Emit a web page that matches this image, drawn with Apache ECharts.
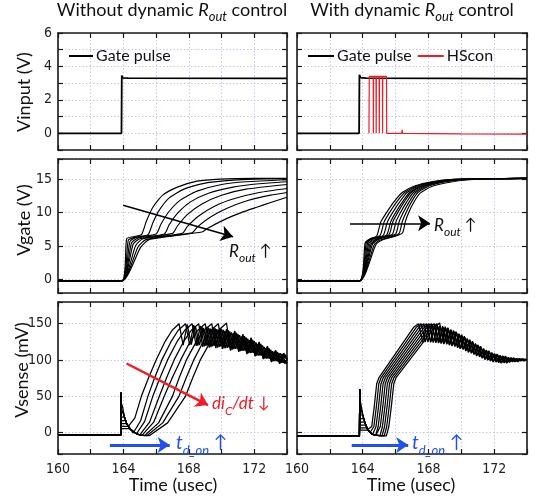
<!DOCTYPE html>
<html><head><meta charset="utf-8">
<script src="https://cdn.jsdelivr.net/npm/echarts@6/dist/echarts.min.js"></script>
<style>html,body{margin:0;padding:0;background:#fff}#c{width:535px;height:497px}</style>
</head><body><div id="c"></div>
<script>
// ---------- tick labels ----------
const xTickLabels = [160, 164, 168, 172];
const yTickLabelsInput = [0, 2, 4, 6];
const yTickLabelsGate = [0, 5, 10, 15];
const yTickLabelsSense = [0, 50, 100, 150];

// ---------- row 1: Vinput ----------
const gatePulseLeft = [[160,0],[163.88,0],[163.9,3.45],[163.96,3.32],[164.3,3.3],[174,3.28]];
const gatePulseRight = [[160,0],[163.78,0],[163.8,3.5],[163.86,3.33],[164.2,3.3],[174,3.27]];
const hsconRight = [[164.38,0],[164.4,3.4],[164.64,3.4],[164.65,0],[164.66,3.4],[164.81,3.4],[164.82,0],[164.83,3.4],[165.0,3.4],[165.01,0],[165.02,3.4],[165.2,3.4],[165.21,0],[165.22,3.4],[165.45,3.4],[165.46,0],[166.37,0],[166.4,0.2],[166.43,0],[170,-0.03],[174,-0.05]];

// ---------- row 2: Vgate ----------
const vgateLeft = [
 [[160,-0.2],[163.9,-0.2],[164.2,6.1],[164.6,6.4],[165.1,6.7],[165.4,8.7],[165.8,10.8],[166.4,12.6],[167.3,13.8],[168.5,14.7],[169.9,15.0],[172,15.1],[174,15.1]],
 [[160,-0.2],[163.9,-0.2],[164.3,5.9],[164.7,6.3],[165.5,6.7],[165.8,8.5],[166.2,10.4],[166.8,12.2],[167.7,13.5],[169,14.4],[170.5,14.8],[172,15.0],[174,15.05]],
 [[160,-0.2],[163.9,-0.2],[164.4,5.7],[164.8,6.3],[166.0,6.8],[166.3,8.3],[166.8,10.2],[167.5,11.9],[168.5,13.2],[170,14.2],[171.5,14.6],[174,14.9]],
 [[160,-0.2],[163.9,-0.2],[164.5,5.5],[164.9,6.2],[166.5,6.8],[166.8,8.2],[167.3,9.9],[168.1,11.6],[169.2,12.9],[170.7,13.8],[172.3,14.3],[174,14.6]],
 [[160,-0.2],[163.9,-0.2],[164.6,5.3],[165.0,6.1],[167.0,6.9],[167.3,8.0],[167.9,9.7],[168.8,11.3],[170,12.6],[171.5,13.5],[174,14.2]],
 [[160,-0.2],[163.9,-0.2],[164.75,5.1],[165.2,6.1],[167.6,6.9],[167.9,7.9],[168.6,9.5],[169.6,11.0],[170.8,12.1],[172.3,13.0],[174,13.6]],
 [[160,-0.2],[163.9,-0.2],[164.9,4.9],[165.4,6.0],[168.2,7.0],[168.5,7.8],[169.3,9.3],[170.3,10.6],[171.6,11.8],[173,12.6],[174,13.0]],
 [[160,-0.2],[163.9,-0.2],[165.05,4.8],[165.6,6.0],[168.8,7.1],[169.1,7.6],[170.3,9.1],[171.2,10.0],[172.15,10.8],[173,11.5],[174,12.3]]
];
const vgateRight = [
 [[160,-0.2],[163.8,-0.2],[164.15,5.5],[164.45,6.1],[164.85,6.5],[165.1,8.6],[165.45,10],[165.9,11.6],[166.4,13],[167.2,14],[168.2,14.6],[169.5,14.95],[171,15.05],[174,15.1]],
 [[160,-0.2],[163.8,-0.2],[164.22,5.5],[164.52,6.1],[165.05,6.55],[165.3,8.6],[165.63,10],[166.07,11.6],[166.55,13],[167.33,14],[168.3,14.6],[169.6,14.95],[171,15.05],[174,15.1]],
 [[160,-0.2],[163.8,-0.2],[164.3,5.5],[164.6,6.1],[165.25,6.6],[165.5,8.6],[165.82,10],[166.25,11.6],[166.7,13],[167.45,14],[168.4,14.6],[169.7,14.95],[171.2,15.05],[174,15.1]],
 [[160,-0.2],[163.8,-0.2],[164.37,5.4],[164.67,6.1],[165.45,6.65],[165.7,8.6],[166.0,10],[166.42,11.6],[166.85,13],[167.58,14],[168.5,14.6],[169.8,14.95],[171.2,15.05],[174,15.1]],
 [[160,-0.2],[163.8,-0.2],[164.45,5.4],[164.75,6.0],[165.6,6.7],[165.83,8.6],[166.13,10],[166.53,11.6],[166.95,13],[167.7,14],[168.6,14.6],[169.9,14.95],[171.3,15.05],[174,15.1]],
 [[160,-0.2],[163.8,-0.2],[164.52,5.3],[164.85,6.0],[165.8,6.75],[166.02,8.6],[166.3,10],[166.68,11.6],[167.08,13],[167.8,14],[168.75,14.6],[170,14.95],[171.4,15.05],[174,15.1]],
 [[160,-0.2],[163.8,-0.2],[164.6,5.3],[164.95,6.0],[166.0,6.8],[166.21,8.6],[166.47,10],[166.83,11.6],[167.22,13],[167.93,14],[168.9,14.6],[170.1,14.95],[171.5,15.05],[174,15.1]],
 [[160,-0.2],[163.8,-0.2],[164.7,5.2],[165.05,5.9],[166.2,6.85],[166.4,8.6],[166.64,10],[166.97,11.6],[167.36,13],[168.07,14],[169.05,14.6],[170.3,14.95],[171.7,15.05],[174,15.1]],
 [[160,-0.2],[163.8,-0.2],[164.8,5.2],[165.2,5.9],[166.4,6.9],[166.6,8.7],[166.8,10],[167.1,11.5],[167.5,12.9],[168.2,13.9],[169.2,14.5],[170.5,14.9],[172,15.05],[174,15.1]]
];

// ---------- row 3: Vsense ----------
const vsenseLeft = [
 [[160,-4],[163.84,-4],[163.86,55],[163.87,40],[163.93,40],[163.95,35],[164.05,22],[164.2,12],[164.3,8],[164.7,20],[165.1,50],[165.55,76],[166.0,100],[166.56,126],[166.98,141],[167.4,150],[167.65,120.5],[167.9,149],[168.15,121.1],[168.4,146.8],[168.65,120.5],[168.9,144.3],[169.15,120.2],[169.4,142.2],[169.65,120.2],[169.9,140.2],[170.15,119.8],[170.4,137],[170.65,118.3],[170.9,133.5],[171.15,116.3],[171.4,128.8],[171.65,113.3],[171.9,123.8],[172.15,109.5],[172.4,119],[172.65,104.5],[172.9,114],[173.15,99.5],[173.4,110],[173.65,96.5],[173.9,106.7],[174,100]],
 [[160,-4],[163.84,-4],[163.86,55],[163.87,33],[163.97,33],[164.05,22],[164.2,12],[164.4,5],[164.6,-1],[165.05,16],[165.5,50],[165.92,76],[166.35,100],[166.93,126],[167.35,141],[167.8,150],[168.05,120.4],[168.3,148.1],[168.55,119.8],[168.8,145.6],[169.05,119.4],[169.3,143.4],[169.55,119.4],[169.8,141.4],[170.05,119.3],[170.3,138.5],[170.55,117.8],[170.8,135],[171.05,116.1],[171.3,130.6],[171.55,113.1],[171.8,125.6],[172.05,110],[172.3,120],[172.55,105.5],[172.8,115],[173.05,100.5],[173.3,110.5],[173.55,97],[173.8,107.4],[174,101]],
 [[160,-4],[163.84,-4],[163.86,55],[163.87,27],[164.01,27],[164.05,22],[164.2,12],[164.4,5],[164.6,1],[164.8,-2],[165.3,15],[165.8,50],[166.25,76],[166.7,100],[167.3,126],[167.75,141],[168.2,150],[168.45,119.5],[168.7,146.9],[168.95,118.7],[169.2,144.6],[169.45,118.6],[169.7,142.6],[169.95,118.6],[170.2,140],[170.45,117.3],[170.7,136.5],[170.95,115.8],[171.2,132.4],[171.45,112.9],[171.7,127.4],[171.95,109.9],[172.2,122],[172.45,106],[172.7,116],[172.95,101.5],[173.2,111.2],[173.45,97.8],[173.7,108.1],[173.95,94.4],[174,97]],
 [[160,-4],[163.84,-4],[163.86,55],[163.87,21],[164.07,21],[164.2,12],[164.4,5],[164.6,1],[164.8,-2],[165.0,-3.5],[165.6,14],[166.2,50],[166.65,76],[167.1,100],[167.7,126],[168.15,141],[168.6,150],[168.85,118],[169.1,145.8],[169.35,117.8],[169.6,143.8],[169.85,117.8],[170.1,141.5],[170.35,116.8],[170.6,138],[170.85,115.3],[171.1,134.2],[171.35,112.7],[171.6,129.2],[171.85,109.7],[172.1,124],[172.35,106],[172.6,118],[172.85,102],[173.1,112],[173.35,98.5],[173.6,109],[173.85,95],[174,100]],
 [[160,-4],[163.84,-4],[163.86,55],[163.87,16],[164.14,16],[164.2,12],[164.4,5],[164.6,1],[164.8,-2],[165.0,-3.5],[165.15,-4],[165.85,14],[166.5,50],[167.0,76],[167.5,100],[168.1,126],[168.55,141],[169.0,150],[169.25,117],[169.5,145],[169.75,117],[170,143],[170.25,116.3],[170.5,139.5],[170.75,114.8],[171,136],[171.25,112.5],[171.5,131],[171.75,109.5],[172,126],[172.25,106],[172.5,120],[172.75,102],[173,114],[173.25,98.5],[173.5,109.5],[173.75,96],[174,100]],
 [[160,-4],[163.84,-4],[163.86,55],[163.87,12],[164.2,12],[164.4,5],[164.6,1],[164.8,-2],[165.0,-3.5],[165.3,-4.5],[166.15,13],[167.0,50],[167.42,76],[167.85,100],[168.47,126],[168.93,141],[169.4,150],[169.65,116.2],[169.9,144.2],[170.15,115.8],[170.4,141],[170.65,114.3],[170.9,137.5],[171.15,112.3],[171.4,132.8],[171.65,109.3],[171.9,127.8],[172.15,106],[172.4,122],[172.65,102],[172.9,116],[173.15,98],[173.4,111],[173.65,96],[173.9,106.7],[174,102]],
 [[160,-4],[163.84,-4],[163.86,55],[163.87,8],[164.31,8],[164.4,5],[164.6,1],[164.8,-2],[165.0,-3.5],[165.2,-4.2],[165.45,-4.5],[166.4,13],[167.4,50],[167.85,76],[168.3,100],[168.9,126],[169.35,141],[169.8,150],[170.05,115.3],[170.3,142.5],[170.55,113.8],[170.8,139],[171.05,112.1],[171.3,134.6],[171.55,109.1],[171.8,129.6],[172.05,106],[172.3,124],[172.55,102],[172.8,118],[173.05,98],[173.3,112.5],[173.55,95.5],[173.8,108.4],[174,100]],
 [[160,-4],[163.84,-4],[163.86,55],[163.87,5],[164.4,5],[164.6,1],[164.8,-2],[165.0,-3.5],[165.2,-4.2],[165.6,-4.5],[166.7,13],[167.8,50],[168.25,76],[168.7,100],[169.34,126],[169.82,141],[170.3,151],[170.55,112.8],[170.8,140],[171.05,111.1],[171.3,135.6],[171.55,108.1],[171.8,130.6],[172.05,105],[172.3,125],[172.55,101],[172.8,119],[173.05,97],[173.3,113.5],[173.55,94.5],[173.8,109.4],[174,100]]
];
const vsenseRight = [
 [[160,-5],[163.8,-5],[163.82,59],[163.83,45],[163.88,45],[163.9,38],[164.0,24],[164.15,12],[164.3,4],[164.4,1.3],[164.55,8],[164.7,35],[164.85,67],[165.0,76],[167.1,145],[167.4,150],[167.65,124.5],[167.9,149],[168.15,125.2],[168.4,147.2],[168.65,124.9],[168.9,144.4],[169.15,123.3],[169.4,139.8],[169.65,120],[169.9,134],[170.15,115.7],[170.4,127.2],[170.65,110.7],[170.9,120.2],[171.15,105.7],[171.4,113.2],[171.65,101.3],[171.9,107.8],[172.15,98.7],[172.4,104],[172.65,97.8],[172.9,101.5],[173.2,99.5],[173.6,100.5],[174,100]],
 [[160,-5],[163.8,-5],[163.82,59],[163.83,37],[163.91,37],[164.0,24],[164.15,12],[164.3,4],[164.45,0],[164.53,-1.6],[164.68,8],[164.83,35],[164.98,67],[165.13,76],[167.26,145],[167.56,150],[167.81,124.5],[168.06,148.9],[168.31,124.9],[168.56,146.8],[168.81,124.3],[169.06,143.5],[169.31,122],[169.56,138.4],[169.81,118.4],[170.06,132.3],[170.31,113.8],[170.56,125.3],[170.81,108.8],[171.06,118.3],[171.31,103.8],[171.56,111.5],[171.81,100],[172.06,106.7],[172.31,98],[172.56,103.4],[172.81,98],[173.06,101],[173.4,99.5],[174,100]],
 [[160,-5],[163.8,-5],[163.82,59],[163.83,30],[163.96,30],[164.0,24],[164.15,12],[164.3,4],[164.45,0],[164.6,-3],[164.66,-3.3],[164.81,8],[164.96,35],[165.11,67],[165.26,76],[167.42,145],[167.72,150],[167.97,124.5],[168.22,148.6],[168.47,124.6],[168.72,146.1],[168.97,123.6],[169.22,142.2],[169.47,120.7],[169.72,136.8],[169.97,116.8],[170.22,130.4],[170.47,111.9],[170.72,123.4],[170.97,106.9],[171.22,116.4],[171.47,101.9],[171.72,110.2],[171.97,98.7],[172.22,105.9],[172.47,97.2],[172.72,103.2],[172.97,98.5],[173.22,101],[173.6,99.5],[174,100]],
 [[160,-5],[163.8,-5],[163.82,59],[163.83,24],[164.0,24],[164.15,12],[164.3,4],[164.45,0],[164.6,-3],[164.79,-4],[164.94,8],[165.09,35],[165.24,67],[165.39,76],[167.58,145],[167.88,150],[168.13,124.2],[168.38,148.2],[168.63,124],[168.88,145.5],[169.13,122.5],[169.38,141],[169.63,119.2],[169.88,135.2],[170.13,114.9],[170.38,128.4],[170.63,109.9],[170.88,121.4],[171.13,104.9],[171.38,114.4],[171.63,100.5],[171.88,109],[172.13,97.9],[172.38,105.1],[172.63,96.9],[172.88,102.5],[173.13,98.5],[173.4,101],[173.8,99.5],[174,100]],
 [[160,-5],[163.8,-5],[163.82,59],[163.83,19],[164.06,19],[164.15,12],[164.3,4],[164.45,0],[164.6,-3],[164.8,-4],[164.92,-4.3],[165.07,8],[165.22,35],[165.37,67],[165.52,76],[167.74,145],[168.04,150],[168.29,123.9],[168.54,147.8],[168.79,123.3],[169.04,144.7],[169.29,121.2],[169.54,139.6],[169.79,117.6],[170.04,133.5],[170.29,113],[170.54,126.5],[170.79,108],[171.04,119.5],[171.29,103],[171.54,112.7],[171.79,99.2],[172.04,107.8],[172.29,97.1],[172.54,104.5],[172.79,96.6],[173.04,102.5],[173.3,98.5],[173.6,101],[174,100]],
 [[160,-5],[163.8,-5],[163.82,59],[163.83,14],[164.13,14],[164.15,12],[164.3,4],[164.45,0],[164.6,-3],[164.8,-4],[165.05,-4.6],[165.2,8],[165.35,35],[165.5,67],[165.65,76],[167.9,145],[168.2,150],[168.45,123.6],[168.7,147.2],[168.95,122.7],[169.2,143.4],[169.45,119.9],[169.7,138],[169.95,116],[170.2,131.6],[170.45,111.1],[170.7,124.6],[170.95,106.1],[171.2,117.6],[171.45,101.1],[171.7,111.4],[171.95,97.9],[172.2,107],[172.45,96.3],[172.7,104.2],[172.95,97.5],[173.2,102],[173.45,98.5],[173.75,101],[174,100]],
 [[160,-5],[163.8,-5],[163.82,59],[163.83,10],[164.19,10],[164.3,4],[164.45,0],[164.6,-3],[164.8,-4],[165.0,-4.5],[165.18,-4.8],[165.33,8],[165.48,35],[165.63,67],[165.78,76],[168.06,145],[168.36,150],[168.61,123.1],[168.86,146.6],[169.11,121.6],[169.36,142.1],[169.61,118.4],[169.86,136.4],[170.11,114.2],[170.36,129.7],[170.61,109.2],[170.86,122.7],[171.11,104.2],[171.36,115.7],[171.61,99.6],[171.86,110.1],[172.11,97],[172.36,106.2],[172.61,95.9],[172.86,103.5],[173.11,97.5],[173.36,102],[173.61,98.5],[173.9,101],[174,100]],
 [[160,-5],[163.8,-5],[163.82,59],[163.83,6],[164.26,6],[164.3,4],[164.45,0],[164.6,-3],[164.8,-4],[165.0,-4.5],[165.31,-5],[165.46,8],[165.61,35],[165.76,67],[165.91,76],[168.22,145],[168.52,150],[168.77,122.6],[169.02,145.9],[169.27,120.3],[169.52,140.8],[169.77,116.8],[170.02,134.8],[170.27,112.3],[170.52,127.8],[170.77,107.3],[171.02,120.8],[171.27,102.3],[171.52,113.8],[171.77,98.3],[172.02,108.9],[172.27,96.2],[172.52,105.5],[172.77,95.6],[173.02,103],[173.27,97.5],[173.52,102],[173.8,98.5],[174,100.5]],
 [[160,-5],[163.8,-5],[163.82,59],[163.83,3],[164.34,3],[164.45,0],[164.6,-3],[164.8,-4],[165.0,-4.5],[165.3,-5],[165.44,-5],[165.59,8],[165.74,35],[165.89,67],[166.04,76],[168.38,145],[168.68,151],[168.93,121.8],[169.18,144.6],[169.43,119.1],[169.68,139.2],[169.93,115.2],[170.18,132.8],[170.43,110.3],[170.68,125.8],[170.93,105.3],[171.18,118.8],[171.43,100.3],[171.68,112.6],[171.93,97.1],[172.18,108.1],[172.43,95.4],[172.68,105.3],[172.93,96.5],[173.18,103],[173.43,97.5],[173.7,101.5],[174,99]]
];

// ---------- annotation arrows (data coordinates) ----------
const arrowGateLeft = [[163.98, 11.1], [170.7, 6.4]];
const arrowGateRight = [[163.23, 8.4], [168.1, 8.4]];
const arrowDidtLeft = [[164.19, 95], [169.17, 37.6]];
const arrowTdLeft = [[163.17, -17.5], [166.83, -17.5]];
const arrowTdRight = [[163.33, -17.5], [166.77, -17.5]];

// ---------- styling ----------
const FT = "Lato, 'Open Sans', sans-serif";
const FN = "'Liberation Sans Narrow', 'DejaVu Sans Condensed', 'Liberation Sans', sans-serif";
const GRID_COLOR = '#c3c8ef';
const RED = '#ee1c24';
const BLUE = '#2050ee';

const grids = [
  {left:58, top:33, width:229, height:117},
  {left:297, top:33, width:230, height:117},
  {left:58, top:159, width:229, height:134},
  {left:297, top:159, width:230, height:134},
  {left:58, top:302, width:229, height:152},
  {left:297, top:302, width:230, height:152}
];
const yRanges = [
  {min:-1, max:6, interval:1, labels:yTickLabelsInput},
  {min:-2, max:18, labels:yTickLabelsGate},
  {min:-30, max:180, labels:yTickLabelsSense}
];

const axisLine = {show:true, onZero:false, lineStyle:{color:'#1a1a1a', width:1.6}};
const axisTick = {show:true, inside:true, length:5, lineStyle:{color:'#1a1a1a', width:1.2}};
const splitLine = {show:true, lineStyle:{color:GRID_COLOR, type:[1.5,2], width:1}};

const xAxis = [], yAxis = [];
grids.forEach((g, i) => {
  const bottomRow = i >= 4;
  xAxis.push({type:'value', gridIndex:i, position:'bottom', min:160, max:174, interval:2,
    axisLine, axisTick, splitLine,
    axisLabel:{show:bottomRow, margin:8, color:'#222', fontSize:14, fontFamily:FN,
      formatter: v => xTickLabels.includes(v) ? String(v) : ''}});
  xAxis.push({type:'value', gridIndex:i, position:'top', min:160, max:174, interval:2,
    axisLine, axisTick, splitLine:{show:false}, axisLabel:{show:false}});
  const r = yRanges[Math.floor(i/2)];
  const left = i % 2 === 0;
  const yl = {type:'value', gridIndex:i, position:'left', min:r.min, max:r.max,
    axisLine, axisTick, splitLine,
    axisLabel:{show:left, margin:6, color:'#222', fontSize:14, fontFamily:FN,
      formatter: v => r.labels.includes(v) ? String(v) : ''}};
  const yr = {type:'value', gridIndex:i, position:'right', min:r.min, max:r.max,
    axisLine, axisTick, splitLine:{show:false}, axisLabel:{show:false}};
  if (r.interval) { yl.interval = r.interval; yr.interval = r.interval; }
  yAxis.push(yl); yAxis.push(yr);
});

function line(data, g, color, w, opts) {
  return Object.assign({type:'line', xAxisIndex:2*g, yAxisIndex:2*g, data:data,
    showSymbol:false, symbol:'none', lineStyle:{color:color, width:w}, itemStyle:{color:color},
    animation:false, silent:true, clip:true}, opts || {});
}
function arrowItem(pts, color, width) {
  return [{coord:pts[0], lineStyle:{color:color, width:width, type:'solid'}, itemStyle:{color:color}},
          {coord:pts[1], lineStyle:{color:color, width:width, type:'solid'}, itemStyle:{color:color}}];
}
function arrowML(items) {
  return {silent:true, animation:false, symbol:['none','arrow'], symbolSize:12,
    lineStyle:{type:'solid'}, label:{show:false}, emphasis:{disabled:true}, data:items};
}

const series = [];
series.push(line(gatePulseLeft, 0, '#000', 1.8, {name:'Gate pulse'}));
series.push(line(gatePulseRight, 1, '#000', 1.8, {name:'Gate pulse'}));
series.push(line(hsconRight, 1, RED, 1.2, {name:'HScon', z:3}));
vgateLeft.forEach((d, k) => series.push(line(d, 2, '#000', 1.15, Object.assign({smooth:0.2},
  k === 0 ? {markLine: arrowML([arrowItem(arrowGateLeft, '#000', 1.5)])} : {}))));
vgateRight.forEach((d, k) => series.push(line(d, 3, '#000', 1.15, Object.assign({smooth:0.2},
  k === 0 ? {markLine: arrowML([arrowItem(arrowGateRight, '#000', 1.5)])} : {}))));
vsenseLeft.forEach((d, k) => series.push(line(d, 4, '#000', 1.25,
  k === 0 ? {markLine: arrowML([arrowItem(arrowDidtLeft, RED, 2.4), arrowItem(arrowTdLeft, BLUE, 2.8)])} : {})));
vsenseRight.forEach((d, k) => series.push(line(d, 5, '#000', 1.25,
  k === 0 ? {markLine: arrowML([arrowItem(arrowTdRight, BLUE, 2.8)])} : {})));

// ---------- texts ----------
const titleRich = {
  n:{fontSize:18, fontFamily:FT, fill:'#111', lineHeight:20, verticalAlign:'top'},
  i:{fontSize:18, fontFamily:FT, fontStyle:'italic', fill:'#111', lineHeight:20, verticalAlign:'top'},
  s:{fontSize:13, fontFamily:FT, fontStyle:'italic', fill:'#111', lineHeight:31}
};
function rtext(x, y, text, rich, align) {
  return {type:'text', x:x, y:y, silent:true, z:100,
    style:{text:text, rich:rich, align:align || 'left', verticalAlign:'top'}};
}
function ptext(x, y, text, size, rot) {
  return {type:'text', x:x, y:y, rotation:rot || 0, silent:true, z:100,
    style:{text:text, font:size + 'px ' + FT, fill:'#111', align:'center', verticalAlign:'middle'}};
}
function annRich(color, big, sub, subLH) {
  return {
    m:{fontSize:big, fontFamily:FT, fontStyle:'italic', fill:color, lineHeight:big+1, verticalAlign:'top'},
    s:{fontSize:sub, fontFamily:FT, fontStyle:'italic', fill:color, lineHeight:subLH},
    a:{fontSize:big-1, fontFamily:FT, fill:color, lineHeight:big+1, verticalAlign:'top'}
  };
}
const graphic = [
  rtext(172, 1, '{n|Without dynamic }{i|R}{s|out}{n| control}', titleRich, 'center'),
  rtext(412, 1, '{n|With dynamic }{i|R}{s|out}{n| control}', titleRich, 'center'),
  ptext(24, 92, 'Vinput (V)', 18, Math.PI/2),
  ptext(24, 220, 'Vgate (V)', 18, Math.PI/2),
  ptext(22, 370, 'Vsense (mV)', 18, Math.PI/2),
  ptext(173, 485, 'Time (usec)', 18, 0),
  ptext(411, 485, 'Time (usec)', 18, 0),
  rtext(229, 243, '{m|R}{s|out}{a| ↑}', annRich('#111', 17, 12, 30)),
  rtext(434, 217, '{m|R}{s|out}{a| ↑}', annRich('#111', 17, 12, 30)),
  rtext(212, 395, '{m|di}{s|C}{m|/dt}{a| ↓}', annRich(RED, 17, 12, 32)),
  rtext(176, 433, '{m|t}{s|d_on}{a| ↑}', annRich(BLUE, 19, 13, 36)),
  rtext(412, 433, '{m|t}{s|d_on}{a| ↑}', annRich(BLUE, 19, 13, 36))
];

const legend = [
  {left:64, top:43, data:['Gate pulse'], icon:'rect', itemWidth:24, itemHeight:2, itemGap:6,
   textStyle:{fontSize:16, fontFamily:FT, color:'#111', padding:[0,0,0,-2]}, selectedMode:false},
  {left:303, top:43, data:['Gate pulse','HScon'], icon:'rect', itemWidth:26, itemHeight:2, itemGap:6,
   textStyle:{fontSize:16, fontFamily:FT, color:'#111', padding:[0,0,0,-2]}, selectedMode:false}
];

const chart = echarts.init(document.getElementById('c'), null, {renderer:'canvas'});
chart.setOption({
  animation:false,
  backgroundColor:'#fff',
  grid:grids,
  xAxis:xAxis,
  yAxis:yAxis,
  legend:legend,
  series:series,
  graphic:graphic
});
</script></body></html>
